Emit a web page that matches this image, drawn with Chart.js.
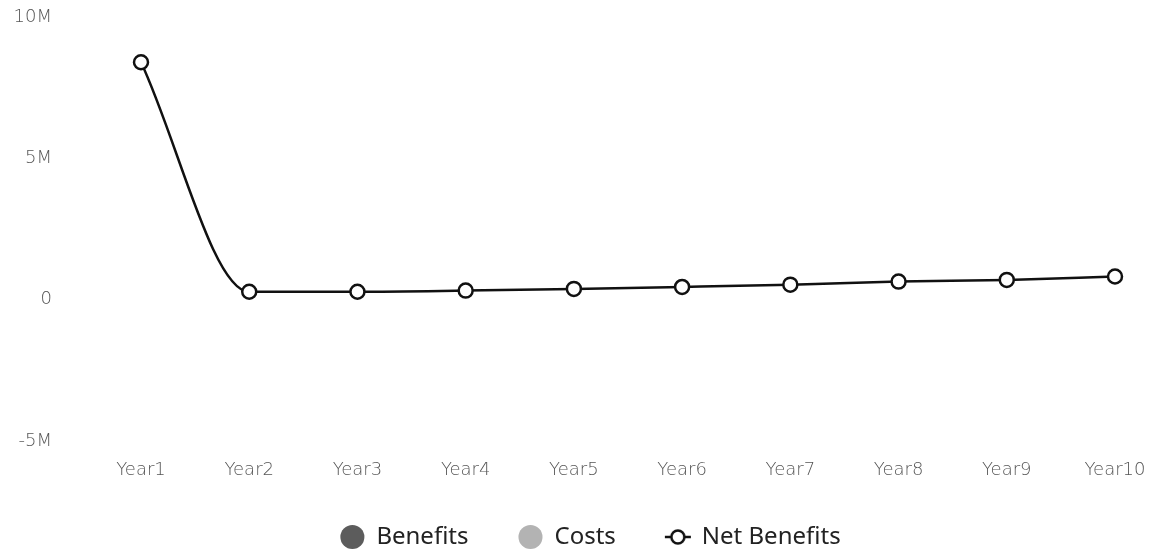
<!DOCTYPE html>
<html>
<head>
<meta charset="utf-8">
<script src="https://cdn.jsdelivr.net/npm/chart.js@4"></script>
<style>
  html, body { margin: 0; padding: 0; background: #fff; }
  #wrap { width: 1155px; height: 554px; }
</style>
</head>
<body>
<div id="wrap"><canvas id="chart"></canvas></div>
<script>
const years = ["Year1", "Year2", "Year3", "Year4", "Year5", "Year6", "Year7", "Year8", "Year9", "Year10"];
const benefits = [];
const costs = [];
const netBenefits = [8400000, 280000, 280000, 320000, 380000, 450000, 530000, 640000, 700000, 820000];
const yTicks = [-5000000, 0, 5000000, 10000000];

const tickFont = { family: '"DejaVu Sans"', size: 18, weight: 200 };

// line + open circle glyph used for the Net Benefits legend entry
function lineMarker() {
    const c = document.createElement('canvas');
    c.width = 28; c.height = 20;
    const g = c.getContext('2d');
    g.strokeStyle = '#111';
    g.lineWidth = 2.5;
    g.beginPath(); g.moveTo(1, 10); g.lineTo(27, 10); g.stroke();
    g.fillStyle = '#fff';
    g.beginPath(); g.arc(14, 10, 6.5, 0, Math.PI * 2); g.fill(); g.stroke();
    return c;
}

// legend is capped in height (maxHeight), so pull its top up to make room for its row
const legendNudge = {
    id: 'legendNudge',
    afterLayout(chart) {
        const lg = chart.legend;
        lg.top -= 39;
        lg.left += 30; lg.right += 30;
    }
};

new Chart(document.getElementById('chart'), {
    data: {
        labels: years,
        datasets: [{
            type: 'bar',
            label: "Benefits",
            data: benefits,
            backgroundColor: "#5c5c5c"
        }, {
            type: 'bar',
            label: "Costs",
            data: costs,
            backgroundColor: "#b3b3b3"
        }, {
            type: 'line',
            label: "Net Benefits",
            data: netBenefits,
            borderColor: "#111",
            borderWidth: 2.5,
            backgroundColor: "#fff",
            pointStyle: 'circle',
            pointBackgroundColor: "#fff",
            pointBorderColor: "#111",
            pointBorderWidth: 2.5,
            pointRadius: 7,
            cubicInterpolationMode: 'monotone'
        }]
    },
    options: {
        responsive: true,
        maintainAspectRatio: false,
        animation: false,
        layout: { padding: { top: 17, left: 6, right: 40, bottom: 0 } },
        scales: {
            x: {
                offset: false,
                grid: { display: false, drawTicks: false },
                border: { display: false },
                afterFit: (axis) => {
                    axis.height = 73;
                    axis.paddingLeft = 0;
                    axis.paddingRight = 0;
                },
                ticks: {
                    color: '#555',
                    padding: 19,
                    maxRotation: 0,
                    font: tickFont
                }
            },
            y: {
                min: -5000000,
                max: 10000000,
                grid: { display: false, drawTicks: false },
                border: { display: false },
                afterBuildTicks: (axis) => { axis.ticks = yTicks.map(v => ({ value: v })); },
                afterFit: (axis) => {
                    axis.width = 135;
                    axis.paddingTop = 0;
                    axis.paddingBottom = 0;
                },
                ticks: {
                    color: '#555',
                    padding: 89,
                    font: tickFont,
                    callback: (v) => v === 0 ? '0' : (v / 1000000) + 'M'
                }
            }
        },
        plugins: {
            tooltip: { enabled: false },
            legend: {
                position: 'bottom',
                maxHeight: 40,
                labels: {
                    usePointStyle: true,
                    boxWidth: 24,
                    boxHeight: 17,
                    color: '#222',
                    padding: 50,
                    font: { family: '"Noto Sans"', size: 24 },
                    generateLabels: (chart) => {
                        const items = Chart.defaults.plugins.legend.labels.generateLabels(chart);
                        items.forEach((it, i) => {
                            const ds = chart.data.datasets[i];
                            if (ds.type === 'line') {
                                it.pointStyle = lineMarker();
                            } else {
                                it.pointStyle = 'circle';
                                it.fillStyle = ds.backgroundColor;
                                it.strokeStyle = ds.backgroundColor;
                            }
                        });
                        return items;
                    }
                }
            }
        }
    },
    plugins: [legendNudge]
});
</script>
</body>
</html>
